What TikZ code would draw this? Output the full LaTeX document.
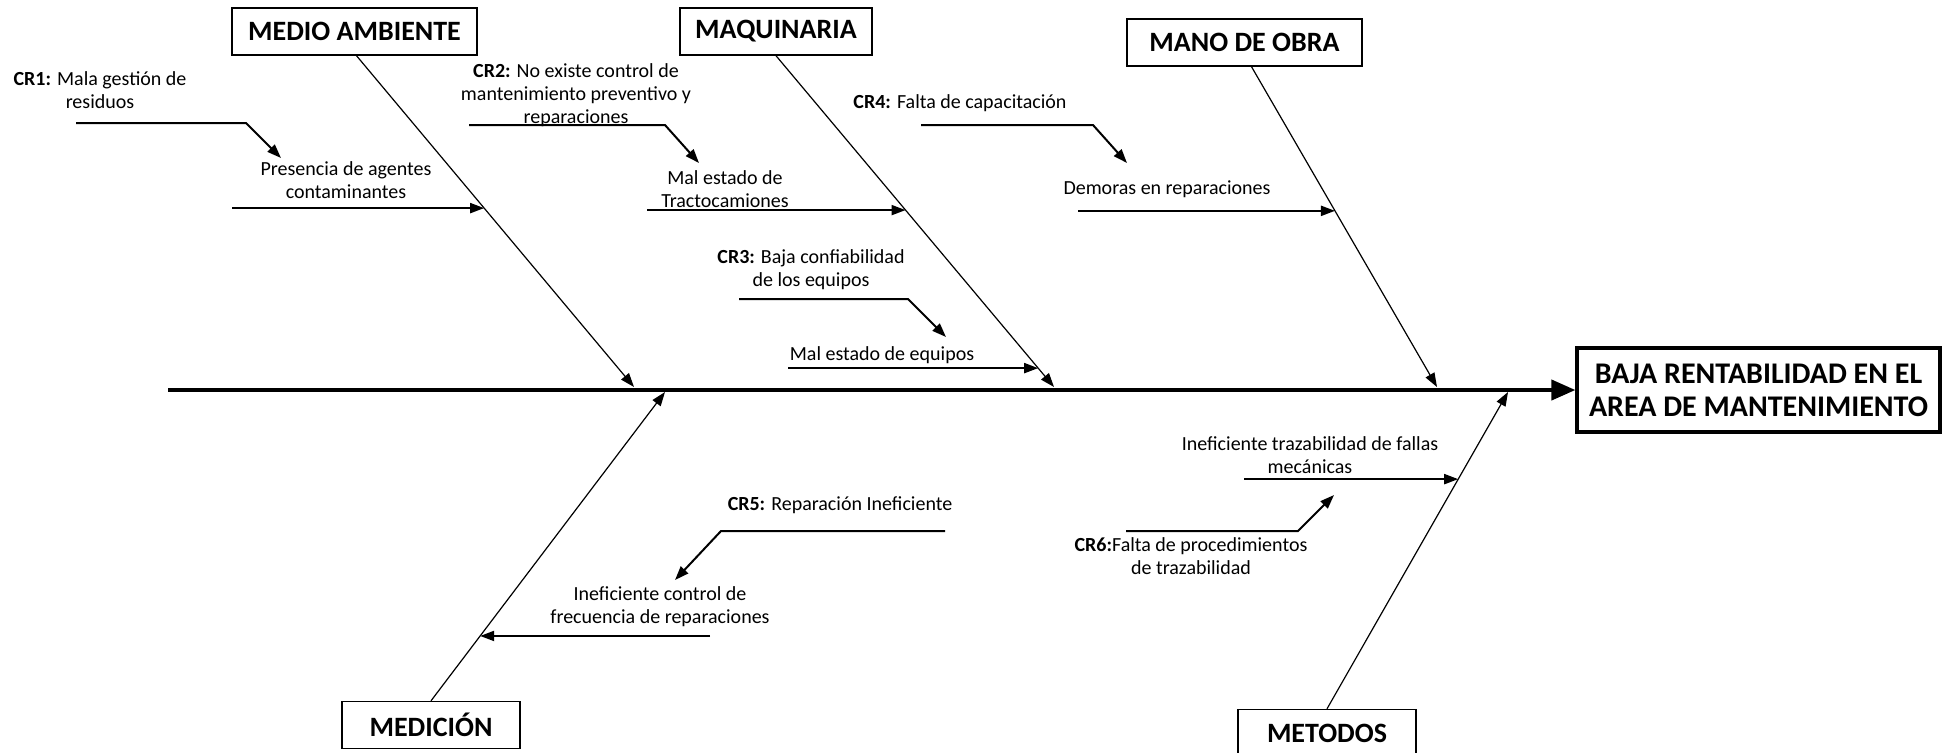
\documentclass[tikz,border=0pt]{standalone}
\usepackage{fontspec}
\setmainfont{Carlito}
\usetikzlibrary{arrows.meta,calc}

\begin{document}
\begin{tikzpicture}[x=0.5pt, y=-0.5pt,
    cat/.style={draw, line width=0.7pt, font=\fontsize{14}{16}\selectfont\bfseries, minimum height=23.5pt, inner sep=2pt},
    txt/.style={align=center, font=\fontsize{10}{11.5}\selectfont, inner sep=0pt},
    bone/.style={line width=0.6pt, -{Triangle[length=7pt,width=5pt]}},
    sub/.style={line width=1pt, -{Triangle[length=7pt,width=5pt]}}]
  \useasboundingbox (0,0) rectangle (1944,752);

  % efecto y espina
  \node[draw, line width=1.6pt, font=\fontsize{15}{16.5}\selectfont\bfseries, align=center, minimum width=181.5pt, minimum height=42pt, inner sep=2pt] (efecto) at (1758.5,390) {BAJA RENTABILIDAD EN EL\\AREA DE MANTENIMIENTO};
  \coordinate (cola) at (168,390);
  \draw[line width=2pt, -{Triangle[length=12pt,width=10pt]}] (cola) -- (efecto.west);

  % categorias
  \node[cat, minimum width=122.5pt] (ma) at (354.5,31.5) {MEDIO AMBIENTE};
  \node[cat, minimum width=96pt] (maq) at (776,31.5) {MAQUINARIA};
  \node[cat, minimum width=117.5pt] (mo) at (1244.5,42.5) {MANO DE OBRA};
  \node[cat, minimum width=89pt] (med) at (431,725) {MEDICIÓN};
  \node[cat, minimum width=89pt] (met) at (1327,733) {METODOS};

  \coordinate (maP) at (634,387);
  \coordinate (maqP) at (1054,387);
  \coordinate (moP) at (1437,387);
  \coordinate (medP) at (665,392);
  \coordinate (metP) at (1508,392);

  \draw[bone] ([xshift=1pt]ma.south) -- (maP);
  \draw[bone] (maq.south) -- (maqP);
  \draw[bone] ([xshift=3.5pt]mo.south) -- (moP);
  \draw[bone] (med.north) -- (medP);
  \draw[bone] (met.north) -- (metP);

  % causas
  \node[txt] (pres) at (346,180) {Presencia de agentes\\contaminantes};
  \node[txt] (tracto) at (725,189) {Mal estado de\\Tractocamiones};
  \node[txt] (demoras) at (1167,189) {Demoras en reparaciones};
  \node[txt] (equipos) at (882,355) {Mal estado de equipos};
  \node[txt] (ctrl) at (660,607) {Ineficiente control de\\frecuencia de reparaciones};
  \node[txt] (traz) at (1310,455) {Ineficiente trazabilidad de fallas\\mecánicas};

  \coordinate (m1) at ($([xshift=1pt]ma.south)!0.46!(maP)$);
  \coordinate (m2) at ($(maq.south)!0.466!(maqP)$);
  \coordinate (m3) at ($(maq.south)!0.943!(maqP)$);
  \coordinate (m4) at ($([xshift=3.5pt]mo.south)!0.45!(moP)$);
  \coordinate (m5) at ($(med.north)!0.21!(medP)$);
  \coordinate (m6) at ($(met.north)!0.725!(metP)$);

  \draw[sub] (232,0 |- m1) -- (m1);
  \draw[sub] (647,0 |- m2) -- (m2);
  \draw[sub] (788,0 |- m3) -- (m3);
  \draw[sub] (1078,0 |- m4) -- (m4);
  \draw[sub] (710,0 |- m5) -- (m5);
  \draw[sub] (1244,0 |- m6) -- (m6);

  % causas raiz
  \node[txt] (cr1) at (100,90) {\textbf{CR1:} Mala gestión de\\residuos};
  \node[txt] (cr2) at (576,95) {\textbf{CR2:} No existe control de\\mantenimiento preventivo y\\reparaciones};
  \node[txt] (cr4) at (960,103) {\textbf{CR4:} Falta de capacitación};
  \node[txt] (cr3) at (811,270) {\textbf{CR3:} Baja confiabilidad\\de los equipos};
  \node[txt] (cr5) at (840,505) {\textbf{CR5:} Reparación Ineficiente};
  \node[txt] (cr6) at (1191,556) {\textbf{CR6:}Falta de procedimientos\\de trazabilidad};

  \coordinate (r1) at (76,123);   \coordinate (t1) at (281,158);
  \coordinate (r2) at (469,125);  \coordinate (t2) at (699,163);
  \coordinate (r4) at (921,125);  \coordinate (t4) at (1127,163);
  \coordinate (r3) at (739,299);  \coordinate (t3) at (946,337);
  \coordinate (r5) at (945,531);  \coordinate (t5) at (675,580);
  \coordinate (r6) at (1126,531); \coordinate (t6) at (1334,495);

  \draw[sub] (r1) -- ++(170,0) -- (t1);
  \draw[sub] (r2) -- ++(196,0) -- (t2);
  \draw[sub] (r4) -- ++(172,0) -- (t4);
  \draw[sub] (r3) -- ++(169,0) -- (t3);
  \draw[sub] (r5) -- ++(-224,0) -- (t5);
  \draw[sub] (r6) -- ++(172,0) -- (t6);
\end{tikzpicture}
\end{document}
